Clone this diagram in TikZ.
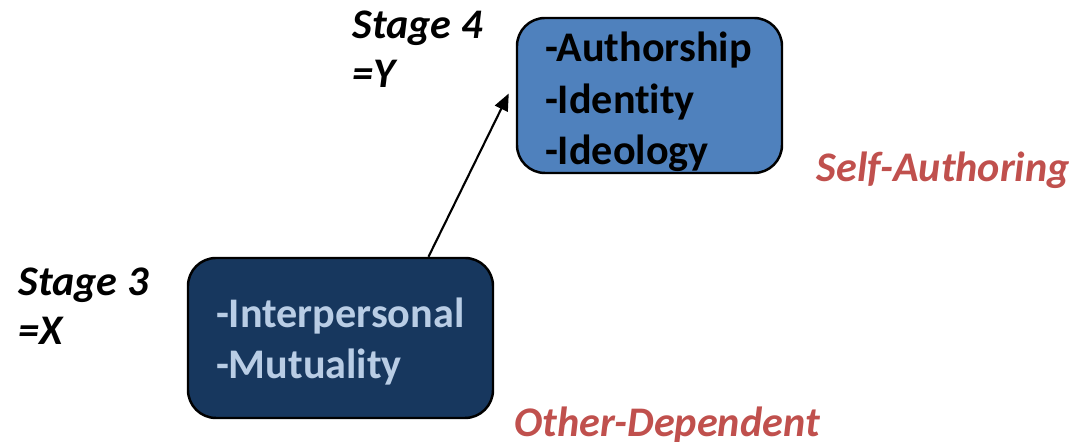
\documentclass[tikz,border=0pt]{standalone}
\usepackage{fontspec}
\setmainfont{Carlito}[Ligatures=NoCommon]
\usetikzlibrary{arrows.meta}
\definecolor{lightbox}{HTML}{4F81BD}
\definecolor{darkbox}{HTML}{17375E}
\definecolor{palebox}{HTML}{B9CDE5}
\definecolor{ordercol}{HTML}{C0504D}
\newcommand\toppad[1]{\rule{0pt}{#1}}
\tikzset{
  stagebox/.style={draw=black, line width=0.7pt, rounded corners=0.28cm,
    align=left, inner sep=0pt, font=\bfseries\fontsize{12}{14.7}\selectfont},
  stagetag/.style={align=left, inner sep=0pt, anchor=north west,
    font=\bfseries\itshape\fontsize{12}{14}\selectfont},
  ordertag/.style={anchor=west, inner sep=0pt, text=ordercol,
    font=\bfseries\itshape\fontsize{12}{14}\selectfont}
}
\begin{document}
\begin{tikzpicture}
    \useasboundingbox (0,0) rectangle (10.76,4.42);
      \node[stagebox, fill=lightbox, minimum width=2.65cm, minimum height=1.55cm,
        text width=2.09cm] (s4) at (6.495,3.465)
        {\toppad{12pt}-Authorship\\-Identity\\-Ideology};
      \node[stagebox, fill=darkbox, text=palebox, minimum width=3.05cm,
        minimum height=1.6cm, text width=2.49cm] (s3) at (3.405,1.04)
        {\toppad{10.5pt}-Interpersonal\\-Mutuality};
      \node[stagetag] (t4) at (3.52,4.32) {Stage 4\\=Y};
      \node[stagetag] (t3) at (0.18,1.75) {Stage 3\\=X};
      \node[ordertag] (o4) at (8.16,2.72) {Self-Authoring};
      \node[ordertag] (o3) at (5.14,0.17) {Other-Dependent};
      \draw[-{Triangle[length=0.17cm,width=0.14cm]}, line width=0.6pt]
        ([xshift=0.88cm]s3.north) to ([xshift=-0.07cm,yshift=0.02cm]s4.west);
    \end{tikzpicture}
\end{document}
